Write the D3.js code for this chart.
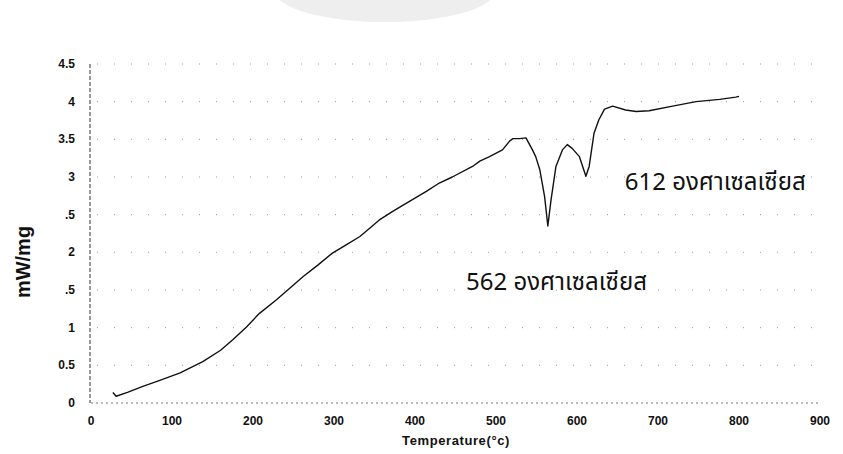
<!DOCTYPE html>
<html>
<head>
<meta charset="utf-8">
<script src="https://cdn.jsdelivr.net/npm/d3@7"></script>
<style>
  body { margin: 0; background: #fff; }
  svg { display: block; }
  .tick-label { font-family: "Liberation Sans", Arial, sans-serif; font-weight: bold; font-size: 12px; fill: #111; }
  .note { font-family: "Noto Sans Thai", "Tahoma", "Noto Sans", "DejaVu Sans", sans-serif; font-size: 24px; fill: #111; }
</style>
</head>
<body>
<svg id="chart"></svg>
<script>
// DSC curve
const temperature = [27, 31, 45, 64, 85, 110, 138, 160, 175, 192, 208, 229, 245, 262, 280, 298, 315, 332, 356, 372, 389, 414, 430, 446, 471, 480, 492, 508, 517, 521, 529, 537, 545, 549, 554, 560, 564, 568, 574, 582, 588, 594, 603, 611, 615, 621, 627, 634, 644, 660, 673, 689, 718, 747, 776, 796, 800];
const heatFlow = [0.14, 0.09, 0.14, 0.22, 0.30, 0.40, 0.55, 0.70, 0.84, 1.01, 1.19, 1.37, 1.52, 1.68, 1.83, 1.99, 2.10, 2.21, 2.43, 2.54, 2.65, 2.81, 2.92, 3.00, 3.14, 3.21, 3.27, 3.36, 3.48, 3.51, 3.51, 3.52, 3.36, 3.27, 3.10, 2.74, 2.35, 2.70, 3.14, 3.36, 3.43, 3.38, 3.27, 3.01, 3.14, 3.58, 3.76, 3.90, 3.94, 3.89, 3.87, 3.88, 3.94, 4.00, 4.03, 4.06, 4.07];

const xTicks = [0, 100, 200, 300, 400, 500, 600, 700, 800, 900];
const yTicks = [0, 0.5, 1, 1.5, 2, 2.5, 3, 3.5, 4, 4.5];
const yTickText = ["0", "0.5", "1", ".5", "2", ".5", "3", "3.5", "4", "4.5"];

const noteText = ["612 องศาเซลเซียส", "562 องศาเซลเซียส"];
const noteTemp = [659, 463]; // where each label starts
const noteValue = [2.83, 1.50]; // label baseline

const width = 843, height = 454;
const svg = d3.select("#chart").attr("width", width).attr("height", height);

// faint watermark at the top of the scan
svg.append("ellipse")
  .attr("cx", 385).attr("cy", -9)
  .attr("rx", 110).attr("ry", 31)
  .attr("fill", "#eeeeee");

const x = d3.scaleLinear().domain([0, 900]).range([91, 820]);
const y = d3.scaleLinear().domain([0, 4.5]).range([403, 64]);

// gridlines, scanned into sparse dots
svg.append("g")
  .selectAll("line")
  .data(yTicks.filter(d => d > 0))
  .join("line")
  .attr("x1", x(0) + 6).attr("x2", x(900))
  .attr("y1", d => y(d)).attr("y2", d => y(d))
  .attr("stroke", "#9a9a9a")
  .attr("stroke-width", 1)
  .attr("stroke-dasharray", "1 16");

// x axis
svg.append("line")
  .attr("x1", x(0)).attr("x2", x(900))
  .attr("y1", y(0)).attr("y2", y(0))
  .attr("stroke", "#777")
  .attr("stroke-dasharray", "2 3");

// y axis
svg.append("line")
  .attr("x1", x(0) - 1).attr("x2", x(0) - 1)
  .attr("y1", y(4.5)).attr("y2", y(0))
  .attr("stroke", "#333")
  .attr("stroke-dasharray", "4 2");

svg.append("g")
  .selectAll("text")
  .data(xTicks)
  .join("text")
  .attr("class", "tick-label")
  .attr("x", d => x(d))
  .attr("y", 425)
  .attr("text-anchor", "middle")
  .text(d => d);

svg.append("g")
  .selectAll("text")
  .data(yTicks)
  .join("text")
  .attr("class", "tick-label")
  .attr("x", 75)
  .attr("y", d => y(d) + 4)
  .attr("text-anchor", "end")
  .text((d, i) => yTickText[i]);

svg.append("text")
  .attr("class", "tick-label")
  .attr("x", 456).attr("y", 445)
  .attr("text-anchor", "middle")
  .style("font-size", "13px")
  .style("letter-spacing", "0.6px")
  .text("Temperature(°c)");

svg.append("text")
  .attr("transform", "translate(30,262) rotate(-90)")
  .attr("text-anchor", "middle")
  .style("font-family", "Liberation Sans, Arial, sans-serif")
  .style("font-weight", "bold")
  .style("font-size", "20px")
  .style("fill", "#111")
  .text("mW/mg");

const points = temperature.map((t, i) => [t, heatFlow[i]]);

svg.append("path")
  .datum(points)
  .attr("fill", "none")
  .attr("stroke", "#111")
  .attr("stroke-width", 1.4)
  .attr("stroke-linejoin", "round")
  .attr("d", d3.line().x(d => x(d[0])).y(d => y(d[1])));

svg.append("g")
  .selectAll("text")
  .data(noteText)
  .join("text")
  .attr("class", "note")
  .attr("x", (d, i) => x(noteTemp[i]))
  .attr("y", (d, i) => y(noteValue[i]))
  .text(d => d);
</script>
</body>
</html>
